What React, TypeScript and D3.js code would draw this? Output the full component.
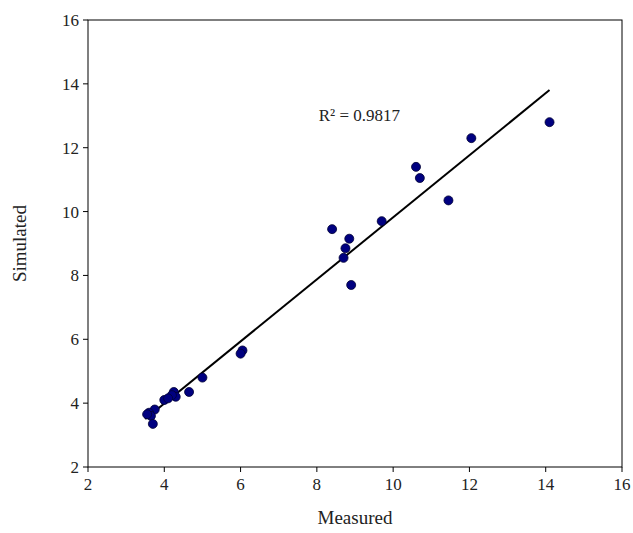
import React from "react";
import * as d3 from "d3";

const measured = [14.1,12.05,10.6,10.7,11.45,9.7,8.4,8.85,8.75,8.7,8.9,6.05,6.0,5.0,4.65,4.25,4.3,4.2,4.0,4.1,3.75,3.6,3.65,3.7,3.55];
const simulated = [12.8,12.3,11.4,11.05,10.35,9.7,9.45,9.15,8.85,8.55,7.7,5.65,5.55,4.8,4.35,4.35,4.2,4.25,4.1,4.15,3.8,3.7,3.6,3.35,3.65];
const fitX = [3.5, 14.1];
const slope = 0.972;
const intercept = 0.1;
const ticks = [2,4,6,8,10,12,14,16];

export default function App() {
  const W = 633, H = 533, L = 88, R = 622, T = 20, B = 467;
  const x = d3.scaleLinear().domain([2,16]).range([L,R]);
  const y = d3.scaleLinear().domain([2,16]).range([B,T]);
  const line = d3.line<number>().x(d => x(d)).y(d => y(slope*d+intercept));
  const f = "'Liberation Serif', 'Times New Roman', serif";
  return (
    <svg width={W} height={H} style={{position:"absolute",left:0,top:0}} fontFamily={f} fill="#222">
      <rect x={0} y={0} width={W} height={H} fill="#fff"/>
      <rect x={L} y={T} width={R-L} height={B-T} fill="none" stroke="#000" strokeWidth={1}/>
      {ticks.map(t => (
        <g key={"x"+t}>
          <line x1={x(t)} x2={x(t)} y1={B} y2={B+5} stroke="#000"/>
          <text x={x(t)} y={B+23} textAnchor="middle" fontSize={17}>{t}</text>
          <line x1={L-5} x2={L} y1={y(t)} y2={y(t)} stroke="#000"/>
          <text x={L-9} y={y(t)+6} textAnchor="end" fontSize={17}>{t}</text>
        </g>
      ))}
      <path d={line(fitX) || ""} stroke="#000" strokeWidth={2} fill="none"/>
      {measured.map((m,i) => (
        <circle key={i} cx={x(m)} cy={y(simulated[i])} r={4.5} fill="#000080" stroke="#000033" strokeWidth={0.8}/>
      ))}
      <text x={x(8.05)} y={y(12.85)} fontSize={17}>R² = 0.9817</text>
      <text x={(L+R)/2} y={524} textAnchor="middle" fontSize={19}>Measured</text>
      <text transform={`translate(26,${(T+B)/2}) rotate(-90)`} textAnchor="middle" fontSize={19}>Simulated</text>
    </svg>
  );
}
